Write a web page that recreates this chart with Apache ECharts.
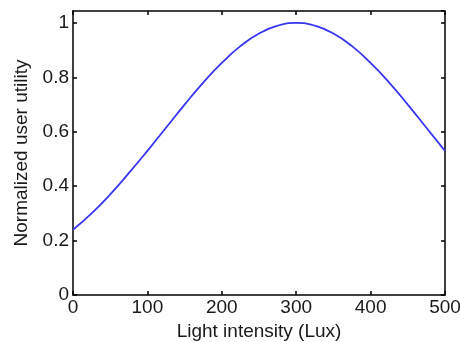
<!DOCTYPE html>
<html><head><meta charset="utf-8">
<script src="https://cdn.jsdelivr.net/npm/echarts@6/dist/echarts.min.js"></script>
<style>html,body{margin:0;padding:0;background:#fff}#c{width:460px;height:342px}</style>
</head><body><div id="c"></div>
<script>
var lux = [0,25,50,75,100,125,150,175,200,225,250,275,300,325,350,375,400,425,450,475,500];
var utility = [0.24,0.30,0.37,0.448,0.53,0.615,0.70,0.781,0.853,0.915,0.961,0.99,1.0,0.99,0.961,0.915,0.853,0.781,0.70,0.615,0.53];
var xTicks = [0,100,200,300,400,500];
var yTicks = [0,0.2,0.4,0.6,0.8,1];

var chart = echarts.init(document.getElementById('c'));
var font = '"Liberation Sans", Arial, sans-serif';
var axisLine = {show:true, onZero:false, lineStyle:{color:'#000', width:1.5}};
var tick = {show:true, inside:true, length:4, lineStyle:{color:'#000', width:1.5}};
chart.setOption({
  animation:false,
  grid:{left:73, top:11, right:15, bottom:47, containLabel:false, outerBoundsMode:'none'},
  xAxis:[{
    type:'value', min:0, max:500, interval:100,
    axisLine:axisLine, axisTick:tick, splitLine:{show:false},
    axisLabel:{color:'#1a1a1a', fontFamily:font, fontSize:19, margin:3,
      formatter:function(v){return xTicks.indexOf(v)>=0?String(v):'';}},
    name:'Light intensity (Lux)', nameLocation:'middle', nameGap:27,
    nameTextStyle:{color:'#1a1a1a', fontFamily:font, fontSize:19}
  },{
    type:'value', position:'top', min:0, max:500, interval:100,
    axisLine:axisLine, axisTick:tick, axisLabel:{show:false}, splitLine:{show:false}
  }],
  yAxis:[{
    type:'value', min:0, max:1.044, interval:0.2,
    axisLine:axisLine, axisTick:tick, splitLine:{show:false},
    axisLabel:{color:'#1a1a1a', fontFamily:font, fontSize:19, margin:4, showMaxLabel:false,
      formatter:function(v){var r=Math.round(v*10)/10; return yTicks.indexOf(r)>=0?String(r):'';}},
    name:'Normalized user utility', nameLocation:'middle', nameGap:40,
    nameTextStyle:{color:'#1a1a1a', fontFamily:font, fontSize:19}
  },{
    type:'value', position:'right', min:0, max:1.044, interval:0.2,
    axisLine:axisLine, axisTick:tick, axisLabel:{show:false}, splitLine:{show:false}
  }],
  series:[{
    type:'line', xAxisIndex:0, yAxisIndex:0, smooth:true, showSymbol:false,
    lineStyle:{color:'#3636f0', width:1.8},
    data: lux.map(function(x,i){return [x, utility[i]];})
  }]
});
</script></body></html>
